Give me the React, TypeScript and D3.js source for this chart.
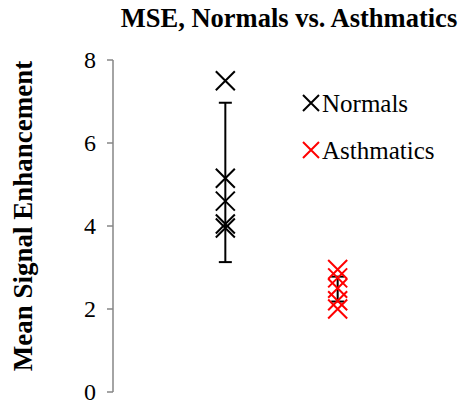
import React from "react";
import * as d3 from "d3";

const groups = ["Normals", "Asthmatics"];
const groupColors = ["#000000", "#ff0000"];
const normals = [7.5, 5.15, 4.6, 4.05, 3.95];
const asthmatics = [2.95, 2.75, 2.5, 2.2, 2.0];
const means = [5.05, 2.48];
const errors = [1.92, 0.3];
const yTicks = [0, 2, 4, 6, 8];

const W = 459;
const H = 408;
const font = "'Liberation Serif', 'Times New Roman', serif";

const Cross = ({ x, y, r, color }: { x: number; y: number; r: number; color: string }) => (
  <path
    d={`M${x - r},${y - r}L${x + r},${y + r}M${x - r},${y + r}L${x + r},${y - r}`}
    stroke={color}
    strokeWidth={2}
    fill="none"
  />
);

export default function App() {
  const y = d3.scaleLinear().domain([0, 8]).range([392, 60]);
  const x = d3.scalePoint().domain(groups).range([113, 450]).padding(1);
  const series = [normals, asthmatics];

  return (
    <svg width={W} height={H} style={{ position: "absolute", left: 0, top: 0, background: "#fff" }}>
      <text x={289} y={27} textAnchor="middle" fontFamily={font} fontWeight="bold" fontSize={26.5}>
        MSE, Normals vs. Asthmatics
      </text>
      <text
        transform={`translate(32,216) rotate(-90)`}
        textAnchor="middle"
        fontFamily={font}
        fontWeight="bold"
        fontSize={27}
      >
        Mean Signal Enhancement
      </text>

      {/* y axis */}
      <line x1={113} x2={113} y1={y(0)} y2={y(8)} stroke="#868686" strokeWidth={1.5} />
      {yTicks.map((t) => (
        <g key={t}>
          <line x1={107} x2={113} y1={y(t)} y2={y(t)} stroke="#868686" strokeWidth={1.5} />
          <text x={96} y={y(t) + 8} textAnchor="end" fontFamily={font} fontSize={24}>
            {t}
          </text>
        </g>
      ))}

      {/* error bars */}
      {groups.map((g, i) => {
        const cx = x(g)!;
        const lo = y(means[i] - errors[i]);
        const hi = y(means[i] + errors[i]);
        return (
          <g key={g} stroke="#000" strokeWidth={2}>
            <line x1={cx} x2={cx} y1={lo} y2={hi} />
            <line x1={cx - 6.5} x2={cx + 6.5} y1={lo} y2={lo} />
            <line x1={cx - 6.5} x2={cx + 6.5} y1={hi} y2={hi} />
          </g>
        );
      })}

      {/* points */}
      {series.map((vals, i) =>
        vals.map((v, j) => (
          <Cross key={`${i}-${j}`} x={x(groups[i])!} y={y(v)} r={9.5} color={groupColors[i]} />
        ))
      )}

      {/* legend */}
      {groups.map((g, i) => (
        <g key={g}>
          <Cross x={311} y={103 + i * 47} r={8} color={groupColors[i]} />
          <text x={322} y={112 + i * 47} fontFamily={font} fontSize={25}>
            {g}
          </text>
        </g>
      ))}
    </svg>
  );
}
